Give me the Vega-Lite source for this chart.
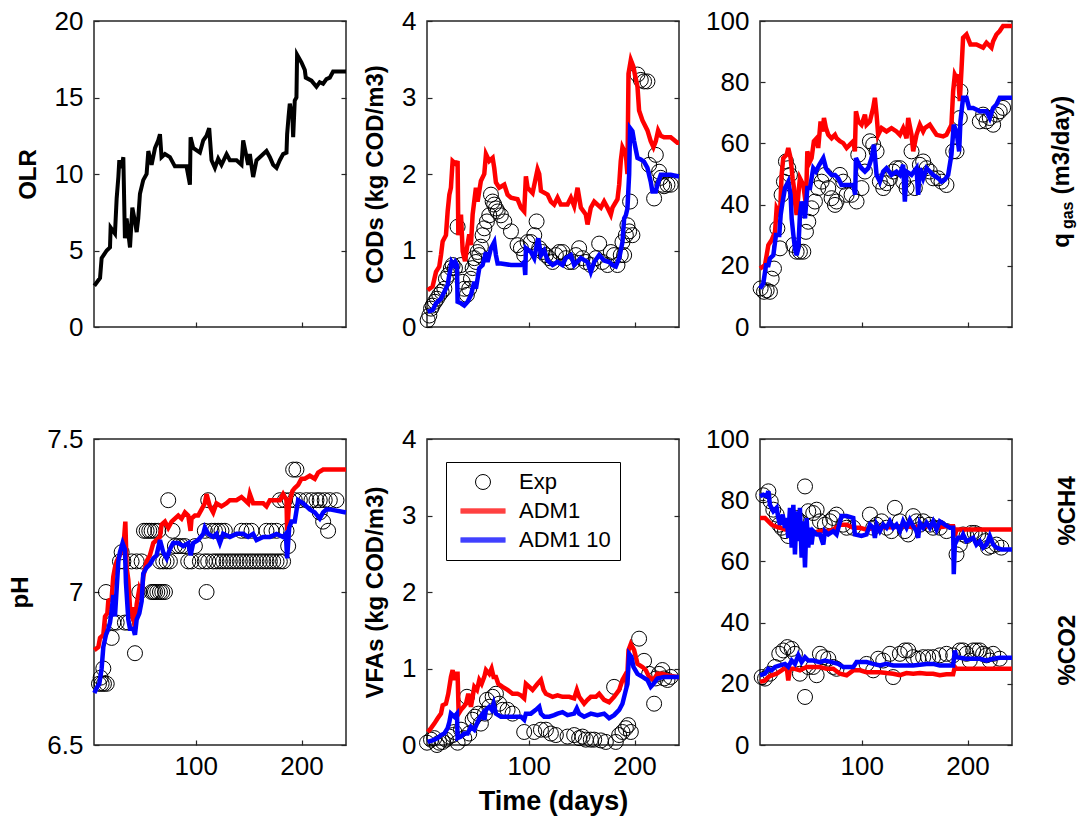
{
"$schema":"https://vega.github.io/schema/vega-lite/v6.json",
"background":"white",
"padding":{"left":8,"top":7,"right":5,"bottom":5},
"bounds":"flush",
"columns":3,
"spacing":{"row":112,"column":81},
"config":{
"font":"Liberation Sans",
"view":{"stroke":"#262626","strokeWidth":1.5},
"axis":{"grid":false,"domain":false,"ticks":true,"tickColor":"#262626","tickSize":-5,"tickWidth":1.2,"labelFont":"Liberation Sans","labelFontSize":26,"labelColor":"black","labelFlush":false,"labelOverlap":false,"titleFont":"Liberation Sans","titleFontSize":24,"titleFontWeight":"bold","titleColor":"black"},
"axisY":{"labelPadding":16,"titlePadding":14},
"axisX":{"labelPadding":13,"titlePadding":9},
"line":{"strokeWidth":4.5,"strokeJoin":"miter","strokeMiterLimit":4},
"point":{"opacity":1}
},
"datasets":{
"olr":[{"t":4.3,"v":2.7},{"t":9.7,"v":3.2},{"t":11.2,"v":4.5},{"t":16.0,"v":5.0},{"t":19.1,"v":5.2},{"t":19.7,"v":6.5},{"t":23.8,"v":6.1},{"t":25.4,"v":8.4},{"t":27.0,"v":9.8},{"t":27.9,"v":10.9},{"t":30.1,"v":10.4},{"t":31.7,"v":11.1},{"t":33.2,"v":5.8},{"t":34.8,"v":7.1},{"t":38.0,"v":5.2},{"t":40.2,"v":7.8},{"t":42.7,"v":6.9},{"t":44.3,"v":6.2},{"t":45.8,"v":7.1},{"t":47.4,"v":8.7},{"t":50.5,"v":9.6},{"t":53.7,"v":10.0},{"t":55.3,"v":11.5},{"t":58.4,"v":10.6},{"t":61.6,"v":11.7},{"t":64.7,"v":12.2},{"t":66.3,"v":12.6},{"t":67.8,"v":11.1},{"t":71.0,"v":11.3},{"t":75.7,"v":11.1},{"t":80.4,"v":10.5},{"t":91.4,"v":10.5},{"t":94.6,"v":9.3},{"t":95.2,"v":12.4},{"t":97.7,"v":11.7},{"t":104.0,"v":11.4},{"t":107.2,"v":12.2},{"t":110.3,"v":12.5},{"t":112.8,"v":13.0},{"t":115.0,"v":10.9},{"t":118.2,"v":10.4},{"t":121.3,"v":11.0},{"t":124.4,"v":10.6},{"t":129.2,"v":11.3},{"t":132.3,"v":10.9},{"t":138.6,"v":10.9},{"t":143.3,"v":10.6},{"t":144.9,"v":12.2},{"t":149.6,"v":10.6},{"t":151.2,"v":11.3},{"t":154.3,"v":9.8},{"t":157.5,"v":10.9},{"t":160.6,"v":11.1},{"t":166.9,"v":11.5},{"t":170.1,"v":11.1},{"t":173.2,"v":10.6},{"t":176.4,"v":10.4},{"t":179.5,"v":10.9},{"t":182.6,"v":11.3},{"t":185.8,"v":11.4},{"t":186.4,"v":12.6},{"t":187.7,"v":13.7},{"t":188.9,"v":14.6},{"t":191.4,"v":13.7},{"t":192.1,"v":12.4},{"t":193.6,"v":14.8},{"t":195.2,"v":15.0},{"t":195.8,"v":17.8},{"t":199.9,"v":17.3},{"t":203.1,"v":16.8},{"t":204.0,"v":16.3},{"t":209.4,"v":16.1},{"t":214.1,"v":15.7},{"t":217.2,"v":16.0},{"t":220.4,"v":15.9},{"t":223.5,"v":16.2},{"t":226.7,"v":16.3},{"t":229.8,"v":16.7},{"t":242,"v":16.7}],
"cod":[
{"t":4.6,"v":0.09,"s":"E"},{"t":6.2,"v":0.15,"s":"E"},{"t":7.8,"v":0.24,"s":"E"},{"t":9.3,"v":0.28,"s":"E"},{"t":11.5,"v":0.33,"s":"E"},{"t":13.4,"v":0.37,"s":"E"},{"t":15.6,"v":0.42,"s":"E"},{"t":17.8,"v":0.46,"s":"E"},{"t":20.4,"v":0.5,"s":"E"},{"t":21.9,"v":0.63,"s":"E"},{"t":24.1,"v":0.68,"s":"E"},{"t":26.6,"v":0.77,"s":"E"},{"t":28.2,"v":0.81,"s":"E"},{"t":30.4,"v":0.77,"s":"E"},{"t":32.9,"v":1.31,"s":"E"},{"t":36.1,"v":0.81,"s":"E"},{"t":37.7,"v":0.59,"s":"E"},{"t":39.2,"v":0.5,"s":"E"},{"t":41.7,"v":0.42,"s":"E"},{"t":43.9,"v":0.5,"s":"E"},{"t":45.5,"v":0.63,"s":"E"},{"t":47.1,"v":0.77,"s":"E"},{"t":48.7,"v":0.9,"s":"E"},{"t":50.2,"v":0.85,"s":"E"},{"t":51.8,"v":0.98,"s":"E"},{"t":53.4,"v":0.94,"s":"E"},{"t":54.9,"v":1.05,"s":"E"},{"t":56.5,"v":1.2,"s":"E"},{"t":58.1,"v":1.29,"s":"E"},{"t":60.6,"v":1.38,"s":"E"},{"t":62.8,"v":1.46,"s":"E"},{"t":64.4,"v":1.73,"s":"E"},{"t":66.0,"v":1.64,"s":"E"},{"t":67.5,"v":1.6,"s":"E"},{"t":69.1,"v":1.55,"s":"E"},{"t":70.7,"v":1.51,"s":"E"},{"t":73.8,"v":1.46,"s":"E"},{"t":77.0,"v":1.38,"s":"E"},{"t":83.3,"v":1.25,"s":"E"},{"t":89.5,"v":1.07,"s":"E"},{"t":92.7,"v":1.03,"s":"E"},{"t":95.8,"v":0.94,"s":"E"},{"t":99.0,"v":1.11,"s":"E"},{"t":102.1,"v":1.11,"s":"E"},{"t":105.3,"v":1.2,"s":"E"},{"t":107.5,"v":1.38,"s":"E"},{"t":110.0,"v":1.03,"s":"E"},{"t":113.1,"v":0.98,"s":"E"},{"t":116.3,"v":0.94,"s":"E"},{"t":119.4,"v":0.9,"s":"E"},{"t":122.6,"v":0.85,"s":"E"},{"t":125.7,"v":0.94,"s":"E"},{"t":128.9,"v":0.98,"s":"E"},{"t":132.0,"v":0.98,"s":"E"},{"t":135.1,"v":0.9,"s":"E"},{"t":138.3,"v":0.85,"s":"E"},{"t":141.4,"v":0.85,"s":"E"},{"t":144.6,"v":0.94,"s":"E"},{"t":147.7,"v":1.03,"s":"E"},{"t":150.9,"v":0.9,"s":"E"},{"t":154.0,"v":0.85,"s":"E"},{"t":158.7,"v":0.81,"s":"E"},{"t":163.5,"v":0.9,"s":"E"},{"t":166.6,"v":1.09,"s":"E"},{"t":169.7,"v":0.85,"s":"E"},{"t":174.5,"v":0.81,"s":"E"},{"t":177.6,"v":0.98,"s":"E"},{"t":180.7,"v":0.94,"s":"E"},{"t":183.9,"v":0.81,"s":"E"},{"t":187.0,"v":0.94,"s":"E"},{"t":188.6,"v":1.11,"s":"E"},{"t":190.2,"v":0.94,"s":"E"},{"t":191.8,"v":1.2,"s":"E"},{"t":193.3,"v":1.33,"s":"E"},{"t":194.9,"v":1.25,"s":"E"},{"t":195.8,"v":1.64,"s":"E"},{"t":198.0,"v":1.2,"s":"E"},{"t":202.8,"v":3.3,"s":"E"},{"t":205.9,"v":3.23,"s":"E"},{"t":209.0,"v":3.21,"s":"E"},{"t":212.2,"v":3.21,"s":"E"},{"t":213.8,"v":2.12,"s":"E"},{"t":218.5,"v":1.68,"s":"E"},{"t":220.1,"v":2.25,"s":"E"},{"t":223.2,"v":2.03,"s":"E"},{"t":224.8,"v":1.95,"s":"E"},{"t":226.3,"v":1.86,"s":"E"},{"t":227.9,"v":1.84,"s":"E"},{"t":231.1,"v":1.86,"s":"E"},{"t":234.2,"v":1.86,"s":"E"},
{"t":4.6,"v":0.48,"s":"A"},{"t":9.3,"v":0.53,"s":"A"},{"t":12.5,"v":0.72,"s":"A"},{"t":15.6,"v":0.79,"s":"A"},{"t":17.2,"v":0.94,"s":"A"},{"t":18.8,"v":1.12,"s":"A"},{"t":21.9,"v":1.2,"s":"A"},{"t":23.5,"v":1.51,"s":"A"},{"t":25.1,"v":1.73,"s":"A"},{"t":26.6,"v":1.82,"s":"A"},{"t":28.2,"v":2.17,"s":"A"},{"t":31.4,"v":2.13,"s":"A"},{"t":32.9,"v":2.17,"s":"A"},{"t":33.6,"v":1.2,"s":"A"},{"t":36.1,"v":1.47,"s":"A"},{"t":37.7,"v":0.99,"s":"A"},{"t":39.9,"v":0.86,"s":"A"},{"t":41.7,"v":1.03,"s":"A"},{"t":43.9,"v":1.21,"s":"A"},{"t":45.5,"v":1.07,"s":"A"},{"t":47.1,"v":1.47,"s":"A"},{"t":50.2,"v":1.82,"s":"A"},{"t":51.8,"v":1.64,"s":"A"},{"t":53.4,"v":1.78,"s":"A"},{"t":54.9,"v":1.91,"s":"A"},{"t":58.1,"v":2.0,"s":"A"},{"t":59.7,"v":2.26,"s":"A"},{"t":62.8,"v":2.17,"s":"A"},{"t":66.0,"v":2.21,"s":"A"},{"t":67.5,"v":2.08,"s":"A"},{"t":69.1,"v":1.89,"s":"A"},{"t":72.2,"v":1.82,"s":"A"},{"t":77.0,"v":1.86,"s":"A"},{"t":80.1,"v":1.73,"s":"A"},{"t":83.3,"v":1.69,"s":"A"},{"t":89.5,"v":1.67,"s":"A"},{"t":92.7,"v":1.56,"s":"A"},{"t":95.8,"v":1.51,"s":"A"},{"t":97.4,"v":1.97,"s":"A"},{"t":99.0,"v":1.82,"s":"A"},{"t":103.7,"v":1.75,"s":"A"},{"t":108.4,"v":2.06,"s":"A"},{"t":110.0,"v":2.0,"s":"A"},{"t":111.6,"v":1.78,"s":"A"},{"t":117.9,"v":1.73,"s":"A"},{"t":121.0,"v":1.64,"s":"A"},{"t":124.1,"v":1.6,"s":"A"},{"t":127.3,"v":1.69,"s":"A"},{"t":130.4,"v":1.6,"s":"A"},{"t":136.7,"v":1.6,"s":"A"},{"t":139.9,"v":1.69,"s":"A"},{"t":143.0,"v":1.58,"s":"A"},{"t":146.2,"v":1.82,"s":"A"},{"t":149.3,"v":1.56,"s":"A"},{"t":154.0,"v":1.47,"s":"A"},{"t":155.6,"v":1.34,"s":"A"},{"t":158.7,"v":1.56,"s":"A"},{"t":161.9,"v":1.64,"s":"A"},{"t":165.0,"v":1.6,"s":"A"},{"t":168.2,"v":1.56,"s":"A"},{"t":171.3,"v":1.64,"s":"A"},{"t":174.5,"v":1.56,"s":"A"},{"t":177.6,"v":1.47,"s":"A"},{"t":179.2,"v":1.56,"s":"A"},{"t":183.9,"v":1.67,"s":"A"},{"t":185.5,"v":1.86,"s":"A"},{"t":187.0,"v":2.17,"s":"A"},{"t":188.6,"v":2.35,"s":"A"},{"t":191.8,"v":2.26,"s":"A"},{"t":193.3,"v":2.0,"s":"A"},{"t":194.3,"v":3.31,"s":"A"},{"t":196.5,"v":3.49,"s":"A"},{"t":199.0,"v":3.4,"s":"A"},{"t":200.2,"v":3.31,"s":"A"},{"t":202.8,"v":3.14,"s":"A"},{"t":204.3,"v":2.83,"s":"A"},{"t":207.5,"v":2.7,"s":"A"},{"t":212.2,"v":2.57,"s":"A"},{"t":215.3,"v":2.43,"s":"A"},{"t":217.9,"v":2.35,"s":"A"},{"t":220.1,"v":2.43,"s":"A"},{"t":222.3,"v":2.57,"s":"A"},{"t":224.8,"v":2.5,"s":"A"},{"t":227.9,"v":2.48,"s":"A"},{"t":234.2,"v":2.48,"s":"A"},{"t":240.5,"v":2.41,"s":"A"},{"t":242,"v":2.41,"s":"A"},
{"t":4.6,"v":0.2,"s":"B"},{"t":9.3,"v":0.22,"s":"B"},{"t":12.5,"v":0.31,"s":"B"},{"t":17.2,"v":0.37,"s":"B"},{"t":20.4,"v":0.46,"s":"B"},{"t":23.5,"v":0.55,"s":"B"},{"t":25.1,"v":0.68,"s":"B"},{"t":27.3,"v":0.85,"s":"B"},{"t":29.2,"v":0.81,"s":"B"},{"t":30.7,"v":0.85,"s":"B"},{"t":32.3,"v":0.81,"s":"B"},{"t":32.9,"v":0.33,"s":"B"},{"t":36.1,"v":0.31,"s":"B"},{"t":39.2,"v":0.28,"s":"B"},{"t":42.4,"v":0.33,"s":"B"},{"t":45.5,"v":0.42,"s":"B"},{"t":48.7,"v":0.59,"s":"B"},{"t":50.2,"v":0.5,"s":"B"},{"t":53.4,"v":0.77,"s":"B"},{"t":56.5,"v":0.81,"s":"B"},{"t":59.7,"v":0.98,"s":"B"},{"t":61.2,"v":0.85,"s":"B"},{"t":64.4,"v":1.03,"s":"B"},{"t":67.5,"v":1.11,"s":"B"},{"t":69.1,"v":0.94,"s":"B"},{"t":70.7,"v":0.83,"s":"B"},{"t":73.8,"v":0.83,"s":"B"},{"t":83.3,"v":0.81,"s":"B"},{"t":92.7,"v":0.81,"s":"B"},{"t":95.8,"v":0.85,"s":"B"},{"t":96.8,"v":0.68,"s":"B"},{"t":97.4,"v":1.03,"s":"B"},{"t":102.1,"v":0.98,"s":"B"},{"t":105.3,"v":0.9,"s":"B"},{"t":109.0,"v":1.16,"s":"B"},{"t":111.6,"v":0.94,"s":"B"},{"t":114.7,"v":1.0,"s":"B"},{"t":117.9,"v":0.87,"s":"B"},{"t":122.6,"v":0.81,"s":"B"},{"t":127.3,"v":0.85,"s":"B"},{"t":132.0,"v":0.81,"s":"B"},{"t":135.1,"v":0.9,"s":"B"},{"t":139.9,"v":0.94,"s":"B"},{"t":143.0,"v":0.81,"s":"B"},{"t":149.3,"v":0.9,"s":"B"},{"t":155.6,"v":0.85,"s":"B"},{"t":158.7,"v":0.72,"s":"B"},{"t":161.9,"v":0.85,"s":"B"},{"t":166.6,"v":0.94,"s":"B"},{"t":171.3,"v":0.87,"s":"B"},{"t":176.0,"v":0.85,"s":"B"},{"t":179.2,"v":0.81,"s":"B"},{"t":182.3,"v":0.79,"s":"B"},{"t":185.5,"v":0.9,"s":"B"},{"t":188.6,"v":1.11,"s":"B"},{"t":190.2,"v":1.42,"s":"B"},{"t":191.8,"v":1.46,"s":"B"},{"t":193.3,"v":1.55,"s":"B"},{"t":194.9,"v":1.99,"s":"B"},{"t":195.8,"v":2.6,"s":"B"},{"t":198.0,"v":2.56,"s":"B"},{"t":199.6,"v":2.43,"s":"B"},{"t":202.8,"v":2.21,"s":"B"},{"t":205.9,"v":2.19,"s":"B"},{"t":209.0,"v":2.16,"s":"B"},{"t":212.2,"v":2.08,"s":"B"},{"t":215.3,"v":1.9,"s":"B"},{"t":216.9,"v":1.77,"s":"B"},{"t":220.1,"v":1.77,"s":"B"},{"t":221.6,"v":1.86,"s":"B"},{"t":224.8,"v":1.99,"s":"B"},{"t":227.9,"v":1.99,"s":"B"},{"t":234.2,"v":1.99,"s":"B"},{"t":240.5,"v":1.97,"s":"B"},{"t":242,"v":1.97,"s":"B"}],
"gas":[
{"t":4.6,"v":12.6,"s":"E"},{"t":7.8,"v":11.5,"s":"E"},{"t":10.3,"v":12.0,"s":"E"},{"t":13.4,"v":11.5,"s":"E"},{"t":15.0,"v":15.8,"s":"E"},{"t":17.2,"v":19.1,"s":"E"},{"t":20.4,"v":32.2,"s":"E"},{"t":22.9,"v":25.7,"s":"E"},{"t":24.4,"v":43.2,"s":"E"},{"t":26.6,"v":47.5,"s":"E"},{"t":28.5,"v":54.1,"s":"E"},{"t":30.7,"v":51.9,"s":"E"},{"t":32.3,"v":49.7,"s":"E"},{"t":35.5,"v":26.8,"s":"E"},{"t":38.6,"v":24.6,"s":"E"},{"t":41.7,"v":24.6,"s":"E"},{"t":44.9,"v":24.6,"s":"E"},{"t":47.4,"v":31.1,"s":"E"},{"t":49.6,"v":34.4,"s":"E"},{"t":52.7,"v":38.8,"s":"E"},{"t":55.9,"v":41.0,"s":"E"},{"t":59.0,"v":45.4,"s":"E"},{"t":62.2,"v":47.5,"s":"E"},{"t":65.3,"v":49.7,"s":"E"},{"t":68.5,"v":45.4,"s":"E"},{"t":71.6,"v":42.1,"s":"E"},{"t":74.8,"v":39.9,"s":"E"},{"t":76.3,"v":41.0,"s":"E"},{"t":79.5,"v":49.7,"s":"E"},{"t":82.6,"v":47.5,"s":"E"},{"t":85.8,"v":43.2,"s":"E"},{"t":90.5,"v":43.2,"s":"E"},{"t":95.2,"v":41.0,"s":"E"},{"t":96.8,"v":56.3,"s":"E"},{"t":99.9,"v":45.4,"s":"E"},{"t":103.1,"v":50.8,"s":"E"},{"t":107.8,"v":60.7,"s":"E"},{"t":110.9,"v":59.6,"s":"E"},{"t":114.1,"v":57.4,"s":"E"},{"t":117.2,"v":47.5,"s":"E"},{"t":120.4,"v":45.4,"s":"E"},{"t":123.5,"v":47.0,"s":"E"},{"t":126.7,"v":48.6,"s":"E"},{"t":129.8,"v":50.8,"s":"E"},{"t":132.9,"v":51.9,"s":"E"},{"t":136.1,"v":51.9,"s":"E"},{"t":139.2,"v":47.5,"s":"E"},{"t":142.4,"v":45.4,"s":"E"},{"t":147.1,"v":57.4,"s":"E"},{"t":150.2,"v":45.4,"s":"E"},{"t":155.0,"v":53.0,"s":"E"},{"t":158.1,"v":54.1,"s":"E"},{"t":161.3,"v":51.9,"s":"E"},{"t":164.4,"v":50.8,"s":"E"},{"t":167.5,"v":48.6,"s":"E"},{"t":172.3,"v":48.6,"s":"E"},{"t":175.4,"v":47.5,"s":"E"},{"t":180.1,"v":46.4,"s":"E"},{"t":186.4,"v":57.4,"s":"E"},{"t":189.6,"v":57.4,"s":"E"},{"t":192.7,"v":68.3,"s":"E"},{"t":193.3,"v":77.0,"s":"E"},{"t":211.6,"v":67.2,"s":"E"},{"t":214.7,"v":69.4,"s":"E"},{"t":217.9,"v":67.2,"s":"E"},{"t":221.0,"v":68.3,"s":"E"},{"t":224.2,"v":66.1,"s":"E"},{"t":227.3,"v":69.4,"s":"E"},{"t":230.4,"v":70.5,"s":"E"},{"t":233.6,"v":71.6,"s":"E"},
{"t":4.0,"v":19.1,"s":"A"},{"t":8.7,"v":20.2,"s":"A"},{"t":10.3,"v":23.5,"s":"A"},{"t":11.9,"v":26.8,"s":"A"},{"t":15.0,"v":28.4,"s":"A"},{"t":18.2,"v":31.1,"s":"A"},{"t":19.7,"v":38.8,"s":"A"},{"t":22.9,"v":36.6,"s":"A"},{"t":24.4,"v":49.7,"s":"A"},{"t":26.0,"v":55.2,"s":"A"},{"t":29.2,"v":56.3,"s":"A"},{"t":30.7,"v":58.5,"s":"A"},{"t":32.9,"v":55.2,"s":"A"},{"t":34.8,"v":48.6,"s":"A"},{"t":36.1,"v":45.4,"s":"A"},{"t":37.0,"v":41.0,"s":"A"},{"t":38.6,"v":36.6,"s":"A"},{"t":40.2,"v":43.2,"s":"A"},{"t":41.7,"v":48.6,"s":"A"},{"t":44.9,"v":46.4,"s":"A"},{"t":47.4,"v":39.9,"s":"A"},{"t":48.7,"v":57.4,"s":"A"},{"t":51.2,"v":54.1,"s":"A"},{"t":52.7,"v":55.2,"s":"A"},{"t":54.9,"v":60.7,"s":"A"},{"t":57.5,"v":61.7,"s":"A"},{"t":59.0,"v":58.5,"s":"A"},{"t":61.2,"v":67.2,"s":"A"},{"t":63.1,"v":63.9,"s":"A"},{"t":64.4,"v":68.3,"s":"A"},{"t":66.3,"v":65.0,"s":"A"},{"t":68.5,"v":62.8,"s":"A"},{"t":71.6,"v":61.7,"s":"A"},{"t":74.8,"v":62.8,"s":"A"},{"t":76.3,"v":61.7,"s":"A"},{"t":79.5,"v":60.7,"s":"A"},{"t":82.6,"v":60.1,"s":"A"},{"t":85.8,"v":58.5,"s":"A"},{"t":88.9,"v":59.6,"s":"A"},{"t":92.1,"v":60.7,"s":"A"},{"t":93.6,"v":57.4,"s":"A"},{"t":94.6,"v":70.5,"s":"A"},{"t":96.8,"v":67.2,"s":"A"},{"t":99.9,"v":66.1,"s":"A"},{"t":103.1,"v":69.4,"s":"A"},{"t":104.6,"v":66.1,"s":"A"},{"t":107.8,"v":67.2,"s":"A"},{"t":110.9,"v":71.6,"s":"A"},{"t":112.5,"v":74.9,"s":"A"},{"t":114.1,"v":69.4,"s":"A"},{"t":115.6,"v":62.8,"s":"A"},{"t":118.8,"v":65.0,"s":"A"},{"t":123.5,"v":63.9,"s":"A"},{"t":128.2,"v":65.0,"s":"A"},{"t":132.9,"v":63.9,"s":"A"},{"t":136.1,"v":62.8,"s":"A"},{"t":139.2,"v":65.0,"s":"A"},{"t":142.4,"v":61.7,"s":"A"},{"t":144.0,"v":68.3,"s":"A"},{"t":147.1,"v":62.8,"s":"A"},{"t":148.7,"v":57.4,"s":"A"},{"t":151.8,"v":62.8,"s":"A"},{"t":155.0,"v":66.1,"s":"A"},{"t":158.1,"v":63.9,"s":"A"},{"t":159.7,"v":65.0,"s":"A"},{"t":164.4,"v":66.1,"s":"A"},{"t":167.5,"v":64.5,"s":"A"},{"t":170.7,"v":62.8,"s":"A"},{"t":177.0,"v":62.3,"s":"A"},{"t":180.1,"v":62.8,"s":"A"},{"t":183.3,"v":65.0,"s":"A"},{"t":184.8,"v":66.1,"s":"A"},{"t":186.4,"v":77.0,"s":"A"},{"t":188.0,"v":82.5,"s":"A"},{"t":189.6,"v":81.4,"s":"A"},{"t":191.1,"v":82.5,"s":"A"},{"t":192.7,"v":73.8,"s":"A"},{"t":194.3,"v":84.2,"s":"A"},{"t":195.8,"v":94.5,"s":"A"},{"t":199.0,"v":95.6,"s":"A"},{"t":201.5,"v":93.4,"s":"A"},{"t":202.8,"v":92.3,"s":"A"},{"t":208.4,"v":92.3,"s":"A"},{"t":214.7,"v":91.3,"s":"A"},{"t":217.9,"v":92.9,"s":"A"},{"t":222.6,"v":91.3,"s":"A"},{"t":224.2,"v":93.4,"s":"A"},{"t":227.3,"v":95.6,"s":"A"},{"t":230.4,"v":96.7,"s":"A"},{"t":233.6,"v":98.4,"s":"A"},{"t":242,"v":98.4,"s":"A"},
{"t":4.0,"v":12.6,"s":"B"},{"t":7.1,"v":14.2,"s":"B"},{"t":9.7,"v":20.2,"s":"B"},{"t":11.9,"v":20.2,"s":"B"},{"t":13.4,"v":22.4,"s":"B"},{"t":16.6,"v":23.5,"s":"B"},{"t":19.1,"v":30.1,"s":"B"},{"t":22.2,"v":30.1,"s":"B"},{"t":23.5,"v":36.6,"s":"B"},{"t":25.4,"v":41.0,"s":"B"},{"t":27.6,"v":45.4,"s":"B"},{"t":30.7,"v":47.5,"s":"B"},{"t":32.9,"v":43.2,"s":"B"},{"t":33.9,"v":35.5,"s":"B"},{"t":35.5,"v":30.1,"s":"B"},{"t":37.0,"v":25.7,"s":"B"},{"t":38.6,"v":23.5,"s":"B"},{"t":40.2,"v":25.7,"s":"B"},{"t":41.7,"v":36.6,"s":"B"},{"t":43.3,"v":41.0,"s":"B"},{"t":44.9,"v":38.8,"s":"B"},{"t":46.5,"v":35.5,"s":"B"},{"t":48.7,"v":45.4,"s":"B"},{"t":51.2,"v":45.4,"s":"B"},{"t":54.3,"v":51.9,"s":"B"},{"t":56.8,"v":50.8,"s":"B"},{"t":60.0,"v":53.0,"s":"B"},{"t":63.8,"v":55.2,"s":"B"},{"t":66.3,"v":51.9,"s":"B"},{"t":68.5,"v":50.8,"s":"B"},{"t":71.6,"v":49.7,"s":"B"},{"t":74.8,"v":49.7,"s":"B"},{"t":77.9,"v":48.6,"s":"B"},{"t":81.0,"v":46.4,"s":"B"},{"t":85.8,"v":46.4,"s":"B"},{"t":92.1,"v":46.4,"s":"B"},{"t":93.9,"v":43.2,"s":"B"},{"t":94.6,"v":55.2,"s":"B"},{"t":97.7,"v":53.0,"s":"B"},{"t":99.9,"v":51.9,"s":"B"},{"t":103.1,"v":50.8,"s":"B"},{"t":106.2,"v":51.9,"s":"B"},{"t":109.4,"v":55.2,"s":"B"},{"t":111.6,"v":59.6,"s":"B"},{"t":114.1,"v":49.7,"s":"B"},{"t":117.2,"v":47.5,"s":"B"},{"t":120.4,"v":50.8,"s":"B"},{"t":123.5,"v":51.9,"s":"B"},{"t":128.2,"v":49.7,"s":"B"},{"t":132.9,"v":50.8,"s":"B"},{"t":136.1,"v":49.7,"s":"B"},{"t":139.2,"v":53.0,"s":"B"},{"t":140.8,"v":41.0,"s":"B"},{"t":142.4,"v":50.8,"s":"B"},{"t":147.1,"v":49.7,"s":"B"},{"t":151.8,"v":51.9,"s":"B"},{"t":153.4,"v":43.2,"s":"B"},{"t":155.0,"v":51.9,"s":"B"},{"t":158.1,"v":48.6,"s":"B"},{"t":161.3,"v":51.9,"s":"B"},{"t":164.4,"v":50.8,"s":"B"},{"t":167.5,"v":49.7,"s":"B"},{"t":172.3,"v":48.6,"s":"B"},{"t":175.4,"v":47.5,"s":"B"},{"t":178.5,"v":48.1,"s":"B"},{"t":181.7,"v":49.7,"s":"B"},{"t":184.8,"v":56.3,"s":"B"},{"t":187.0,"v":66.1,"s":"B"},{"t":189.6,"v":63.9,"s":"B"},{"t":192.1,"v":57.4,"s":"B"},{"t":193.3,"v":67.2,"s":"B"},{"t":195.8,"v":74.9,"s":"B"},{"t":199.0,"v":74.9,"s":"B"},{"t":201.5,"v":71.6,"s":"B"},{"t":205.3,"v":71.6,"s":"B"},{"t":211.6,"v":70.5,"s":"B"},{"t":217.9,"v":70.5,"s":"B"},{"t":221.0,"v":68.3,"s":"B"},{"t":224.2,"v":71.6,"s":"B"},{"t":227.3,"v":72.7,"s":"B"},{"t":230.4,"v":74.9,"s":"B"},{"t":242,"v":74.9,"s":"B"}],
"ph":[
{"t":8.7,"v":6.70,"s":"E"},{"t":11.2,"v":6.70,"s":"E"},{"t":13.4,"v":6.70,"s":"E"},{"t":16.0,"v":6.70,"s":"E"},{"t":10.3,"v":6.72,"s":"E"},{"t":12.8,"v":6.75,"s":"E"},{"t":15.3,"v":7.00,"s":"E"},{"t":20.7,"v":6.85,"s":"E"},{"t":22.2,"v":6.90,"s":"E"},{"t":25.4,"v":6.90,"s":"E"},{"t":28.5,"v":7.10,"s":"E"},{"t":30.1,"v":7.13,"s":"E"},{"t":31.7,"v":7.10,"s":"E"},{"t":33.2,"v":6.90,"s":"E"},{"t":36.4,"v":6.90,"s":"E"},{"t":39.5,"v":7.10,"s":"E"},{"t":42.7,"v":6.80,"s":"E"},{"t":44.3,"v":7.10,"s":"E"},{"t":46.8,"v":7.00,"s":"E"},{"t":49.0,"v":7.10,"s":"E"},{"t":51.2,"v":7.20,"s":"E"},{"t":53.7,"v":7.20,"s":"E"},{"t":56.2,"v":7.20,"s":"E"},{"t":58.4,"v":7.00,"s":"E"},{"t":60.0,"v":7.00,"s":"E"},{"t":61.6,"v":7.00,"s":"E"},{"t":63.8,"v":7.00,"s":"E"},{"t":66.3,"v":7.00,"s":"E"},{"t":68.5,"v":7.00,"s":"E"},{"t":71.0,"v":7.00,"s":"E"},{"t":58.4,"v":7.20,"s":"E"},{"t":61.6,"v":7.20,"s":"E"},{"t":64.7,"v":7.20,"s":"E"},{"t":66.3,"v":7.10,"s":"E"},{"t":69.4,"v":7.10,"s":"E"},{"t":72.6,"v":7.10,"s":"E"},{"t":74.1,"v":7.30,"s":"E"},{"t":75.7,"v":7.10,"s":"E"},{"t":78.2,"v":7.20,"s":"E"},{"t":80.4,"v":7.15,"s":"E"},{"t":83.6,"v":7.15,"s":"E"},{"t":86.7,"v":7.15,"s":"E"},{"t":89.9,"v":7.15,"s":"E"},{"t":93.0,"v":7.10,"s":"E"},{"t":96.1,"v":7.10,"s":"E"},{"t":99.3,"v":7.15,"s":"E"},{"t":104.0,"v":7.10,"s":"E"},{"t":108.7,"v":7.10,"s":"E"},{"t":110.3,"v":7.00,"s":"E"},{"t":111.9,"v":7.30,"s":"E"},{"t":115.0,"v":7.20,"s":"E"},{"t":118.2,"v":7.20,"s":"E"},{"t":121.3,"v":7.20,"s":"E"},{"t":124.4,"v":7.20,"s":"E"},{"t":127.6,"v":7.20,"s":"E"},{"t":108.7,"v":7.20,"s":"E"},{"t":111.9,"v":7.10,"s":"E"},{"t":116.6,"v":7.10,"s":"E"},{"t":119.7,"v":7.10,"s":"E"},{"t":122.9,"v":7.10,"s":"E"},{"t":126.0,"v":7.10,"s":"E"},{"t":129.2,"v":7.10,"s":"E"},{"t":132.3,"v":7.10,"s":"E"},{"t":135.5,"v":7.10,"s":"E"},{"t":138.6,"v":7.10,"s":"E"},{"t":141.8,"v":7.10,"s":"E"},{"t":144.9,"v":7.10,"s":"E"},{"t":148.0,"v":7.10,"s":"E"},{"t":151.2,"v":7.10,"s":"E"},{"t":154.3,"v":7.10,"s":"E"},{"t":157.5,"v":7.10,"s":"E"},{"t":160.6,"v":7.10,"s":"E"},{"t":163.8,"v":7.10,"s":"E"},{"t":166.9,"v":7.10,"s":"E"},{"t":170.1,"v":7.10,"s":"E"},{"t":173.2,"v":7.10,"s":"E"},{"t":176.4,"v":7.10,"s":"E"},{"t":179.5,"v":7.10,"s":"E"},{"t":182.6,"v":7.10,"s":"E"},{"t":143.3,"v":7.20,"s":"E"},{"t":148.0,"v":7.20,"s":"E"},{"t":152.8,"v":7.20,"s":"E"},{"t":166.9,"v":7.20,"s":"E"},{"t":171.6,"v":7.20,"s":"E"},{"t":176.4,"v":7.20,"s":"E"},{"t":179.5,"v":7.30,"s":"E"},{"t":184.2,"v":7.30,"s":"E"},{"t":185.8,"v":7.20,"s":"E"},{"t":187.4,"v":7.15,"s":"E"},{"t":188.9,"v":7.30,"s":"E"},{"t":192.1,"v":7.40,"s":"E"},{"t":195.2,"v":7.40,"s":"E"},{"t":193.6,"v":7.30,"s":"E"},{"t":198.4,"v":7.30,"s":"E"},{"t":204.6,"v":7.30,"s":"E"},{"t":209.4,"v":7.30,"s":"E"},{"t":214.1,"v":7.30,"s":"E"},{"t":217.2,"v":7.30,"s":"E"},{"t":221.9,"v":7.30,"s":"E"},{"t":226.7,"v":7.30,"s":"E"},{"t":233.0,"v":7.30,"s":"E"},{"t":217.2,"v":7.26,"s":"E"},{"t":220.4,"v":7.23,"s":"E"},{"t":225.1,"v":7.20,"s":"E"},
{"t":4.3,"v":6.81,"s":"A"},{"t":8.1,"v":6.82,"s":"A"},{"t":9.7,"v":6.85,"s":"A"},{"t":12.8,"v":6.86,"s":"A"},{"t":14.4,"v":6.92,"s":"A"},{"t":16.6,"v":6.93,"s":"A"},{"t":17.5,"v":6.97,"s":"A"},{"t":20.7,"v":6.98,"s":"A"},{"t":22.2,"v":7.05,"s":"A"},{"t":23.8,"v":7.08,"s":"A"},{"t":25.4,"v":7.10,"s":"A"},{"t":28.5,"v":7.12,"s":"A"},{"t":30.1,"v":7.14,"s":"A"},{"t":32.3,"v":7.17,"s":"A"},{"t":33.6,"v":7.23,"s":"A"},{"t":34.8,"v":7.08,"s":"A"},{"t":36.4,"v":7.04,"s":"A"},{"t":38.0,"v":6.95,"s":"A"},{"t":39.5,"v":6.93,"s":"A"},{"t":41.1,"v":6.95,"s":"A"},{"t":42.7,"v":6.88,"s":"A"},{"t":44.3,"v":6.96,"s":"A"},{"t":46.8,"v":7.01,"s":"A"},{"t":49.0,"v":6.99,"s":"A"},{"t":50.5,"v":7.05,"s":"A"},{"t":53.7,"v":7.10,"s":"A"},{"t":56.8,"v":7.12,"s":"A"},{"t":60.0,"v":7.16,"s":"A"},{"t":63.1,"v":7.17,"s":"A"},{"t":66.3,"v":7.18,"s":"A"},{"t":67.8,"v":7.22,"s":"A"},{"t":71.0,"v":7.23,"s":"A"},{"t":74.1,"v":7.21,"s":"A"},{"t":77.3,"v":7.23,"s":"A"},{"t":80.4,"v":7.24,"s":"A"},{"t":83.6,"v":7.25,"s":"A"},{"t":86.7,"v":7.24,"s":"A"},{"t":89.9,"v":7.26,"s":"A"},{"t":93.0,"v":7.25,"s":"A"},{"t":95.2,"v":7.20,"s":"A"},{"t":96.1,"v":7.24,"s":"A"},{"t":99.3,"v":7.25,"s":"A"},{"t":102.4,"v":7.25,"s":"A"},{"t":105.6,"v":7.27,"s":"A"},{"t":108.7,"v":7.29,"s":"A"},{"t":110.3,"v":7.32,"s":"A"},{"t":113.4,"v":7.28,"s":"A"},{"t":116.6,"v":7.26,"s":"A"},{"t":119.7,"v":7.29,"s":"A"},{"t":124.4,"v":7.28,"s":"A"},{"t":129.2,"v":7.29,"s":"A"},{"t":132.3,"v":7.30,"s":"A"},{"t":138.6,"v":7.30,"s":"A"},{"t":143.3,"v":7.31,"s":"A"},{"t":146.5,"v":7.30,"s":"A"},{"t":149.6,"v":7.29,"s":"A"},{"t":151.2,"v":7.32,"s":"A"},{"t":154.3,"v":7.29,"s":"A"},{"t":159.1,"v":7.29,"s":"A"},{"t":163.8,"v":7.29,"s":"A"},{"t":166.9,"v":7.28,"s":"A"},{"t":170.1,"v":7.30,"s":"A"},{"t":174.8,"v":7.30,"s":"A"},{"t":179.5,"v":7.30,"s":"A"},{"t":182.6,"v":7.32,"s":"A"},{"t":185.8,"v":7.30,"s":"A"},{"t":186.4,"v":7.20,"s":"A"},{"t":188.3,"v":7.29,"s":"A"},{"t":191.4,"v":7.33,"s":"A"},{"t":193.6,"v":7.34,"s":"A"},{"t":196.8,"v":7.35,"s":"A"},{"t":199.9,"v":7.37,"s":"A"},{"t":203.1,"v":7.37,"s":"A"},{"t":207.8,"v":7.38,"s":"A"},{"t":212.5,"v":7.37,"s":"A"},{"t":215.7,"v":7.39,"s":"A"},{"t":220.4,"v":7.40,"s":"A"},{"t":226.7,"v":7.40,"s":"A"},{"t":242,"v":7.40,"s":"A"},
{"t":4.3,"v":6.67,"s":"B"},{"t":7.1,"v":6.69,"s":"B"},{"t":9.0,"v":6.70,"s":"B"},{"t":11.2,"v":6.75,"s":"B"},{"t":12.8,"v":6.82,"s":"B"},{"t":15.3,"v":6.86,"s":"B"},{"t":17.5,"v":6.88,"s":"B"},{"t":19.1,"v":6.90,"s":"B"},{"t":20.7,"v":6.94,"s":"B"},{"t":22.2,"v":6.99,"s":"B"},{"t":23.8,"v":6.92,"s":"B"},{"t":25.4,"v":7.01,"s":"B"},{"t":27.0,"v":7.10,"s":"B"},{"t":28.5,"v":7.13,"s":"B"},{"t":31.0,"v":7.16,"s":"B"},{"t":33.2,"v":7.14,"s":"B"},{"t":34.2,"v":7.03,"s":"B"},{"t":36.4,"v":6.91,"s":"B"},{"t":38.0,"v":6.88,"s":"B"},{"t":41.1,"v":6.88,"s":"B"},{"t":42.7,"v":6.86,"s":"B"},{"t":44.3,"v":6.91,"s":"B"},{"t":46.8,"v":6.93,"s":"B"},{"t":49.0,"v":6.97,"s":"B"},{"t":50.5,"v":7.06,"s":"B"},{"t":53.7,"v":7.08,"s":"B"},{"t":56.8,"v":7.09,"s":"B"},{"t":60.0,"v":7.11,"s":"B"},{"t":63.1,"v":7.12,"s":"B"},{"t":66.3,"v":7.17,"s":"B"},{"t":69.4,"v":7.13,"s":"B"},{"t":72.6,"v":7.11,"s":"B"},{"t":75.7,"v":7.14,"s":"B"},{"t":78.8,"v":7.16,"s":"B"},{"t":83.6,"v":7.16,"s":"B"},{"t":88.3,"v":7.15,"s":"B"},{"t":93.0,"v":7.16,"s":"B"},{"t":95.2,"v":7.12,"s":"B"},{"t":97.7,"v":7.16,"s":"B"},{"t":102.4,"v":7.17,"s":"B"},{"t":107.2,"v":7.19,"s":"B"},{"t":108.7,"v":7.21,"s":"B"},{"t":111.9,"v":7.19,"s":"B"},{"t":116.6,"v":7.18,"s":"B"},{"t":119.7,"v":7.19,"s":"B"},{"t":122.9,"v":7.16,"s":"B"},{"t":126.0,"v":7.19,"s":"B"},{"t":132.3,"v":7.18,"s":"B"},{"t":138.6,"v":7.19,"s":"B"},{"t":144.9,"v":7.19,"s":"B"},{"t":149.6,"v":7.18,"s":"B"},{"t":154.3,"v":7.19,"s":"B"},{"t":157.5,"v":7.17,"s":"B"},{"t":163.8,"v":7.18,"s":"B"},{"t":170.1,"v":7.18,"s":"B"},{"t":176.4,"v":7.19,"s":"B"},{"t":182.6,"v":7.18,"s":"B"},{"t":185.2,"v":7.19,"s":"B"},{"t":186.4,"v":7.11,"s":"B"},{"t":188.3,"v":7.21,"s":"B"},{"t":190.5,"v":7.23,"s":"B"},{"t":193.6,"v":7.23,"s":"B"},{"t":196.8,"v":7.30,"s":"B"},{"t":201.5,"v":7.29,"s":"B"},{"t":207.8,"v":7.27,"s":"B"},{"t":212.5,"v":7.26,"s":"B"},{"t":217.2,"v":7.24,"s":"B"},{"t":220.4,"v":7.26,"s":"B"},{"t":223.5,"v":7.27,"s":"B"},{"t":226.7,"v":7.27,"s":"B"},{"t":242,"v":7.26,"s":"B"}],
"vfa":[
{"t":4.0,"v":0.03,"s":"E"},{"t":7.8,"v":0.07,"s":"E"},{"t":10.9,"v":0.09,"s":"E"},{"t":13.4,"v":0.0,"s":"E"},{"t":15.6,"v":0.03,"s":"E"},{"t":18.8,"v":0.04,"s":"E"},{"t":21.9,"v":0.07,"s":"E"},{"t":25.1,"v":0.11,"s":"E"},{"t":28.2,"v":0.13,"s":"E"},{"t":29.8,"v":0.17,"s":"E"},{"t":32.9,"v":0.03,"s":"E"},{"t":36.1,"v":0.2,"s":"E"},{"t":39.2,"v":0.09,"s":"E"},{"t":41.7,"v":0.63,"s":"E"},{"t":43.9,"v":0.15,"s":"E"},{"t":47.1,"v":0.33,"s":"E"},{"t":49.3,"v":0.37,"s":"E"},{"t":52.4,"v":0.41,"s":"E"},{"t":54.9,"v":0.28,"s":"E"},{"t":58.7,"v":0.41,"s":"E"},{"t":60.6,"v":0.59,"s":"E"},{"t":62.8,"v":0.5,"s":"E"},{"t":66.0,"v":0.63,"s":"E"},{"t":69.1,"v":0.67,"s":"E"},{"t":72.2,"v":0.54,"s":"E"},{"t":75.4,"v":0.46,"s":"E"},{"t":80.1,"v":0.46,"s":"E"},{"t":84.8,"v":0.41,"s":"E"},{"t":95.8,"v":0.17,"s":"E"},{"t":105.3,"v":0.17,"s":"E"},{"t":111.6,"v":0.2,"s":"E"},{"t":116.3,"v":0.2,"s":"E"},{"t":121.0,"v":0.15,"s":"E"},{"t":125.7,"v":0.13,"s":"E"},{"t":136.7,"v":0.11,"s":"E"},{"t":143.0,"v":0.13,"s":"E"},{"t":147.7,"v":0.09,"s":"E"},{"t":150.9,"v":0.11,"s":"E"},{"t":154.0,"v":0.07,"s":"E"},{"t":158.7,"v":0.07,"s":"E"},{"t":161.9,"v":0.07,"s":"E"},{"t":168.2,"v":0.06,"s":"E"},{"t":172.9,"v":0.04,"s":"E"},{"t":180.7,"v":0.76,"s":"E"},{"t":182.3,"v":0.04,"s":"E"},{"t":185.5,"v":0.13,"s":"E"},{"t":188.6,"v":0.17,"s":"E"},{"t":191.8,"v":0.22,"s":"E"},{"t":194.0,"v":0.26,"s":"E"},{"t":196.5,"v":0.17,"s":"E"},{"t":204.3,"v":1.39,"s":"E"},{"t":209.0,"v":1.1,"s":"E"},{"t":213.8,"v":0.93,"s":"E"},{"t":218.5,"v":0.54,"s":"E"},{"t":220.1,"v":0.87,"s":"E"},{"t":223.2,"v":0.93,"s":"E"},{"t":226.3,"v":0.98,"s":"E"},{"t":227.9,"v":0.87,"s":"E"},{"t":231.1,"v":0.85,"s":"E"},{"t":234.2,"v":0.89,"s":"E"},
{"t":4.6,"v":0.17,"s":"A"},{"t":7.8,"v":0.22,"s":"A"},{"t":10.9,"v":0.28,"s":"A"},{"t":14.1,"v":0.35,"s":"A"},{"t":17.2,"v":0.41,"s":"A"},{"t":18.8,"v":0.52,"s":"A"},{"t":21.9,"v":0.54,"s":"A"},{"t":24.1,"v":0.67,"s":"A"},{"t":26.6,"v":0.89,"s":"A"},{"t":28.2,"v":0.98,"s":"A"},{"t":29.8,"v":0.85,"s":"A"},{"t":31.4,"v":0.93,"s":"A"},{"t":32.9,"v":0.93,"s":"A"},{"t":33.9,"v":0.41,"s":"A"},{"t":36.1,"v":0.46,"s":"A"},{"t":38.6,"v":0.5,"s":"A"},{"t":40.8,"v":0.54,"s":"A"},{"t":43.0,"v":0.67,"s":"A"},{"t":45.5,"v":0.5,"s":"A"},{"t":48.7,"v":0.76,"s":"A"},{"t":51.2,"v":0.72,"s":"A"},{"t":53.4,"v":0.85,"s":"A"},{"t":55.6,"v":0.8,"s":"A"},{"t":58.1,"v":0.89,"s":"A"},{"t":59.7,"v":0.98,"s":"A"},{"t":62.8,"v":0.93,"s":"A"},{"t":65.0,"v":1.0,"s":"A"},{"t":66.9,"v":0.89,"s":"A"},{"t":69.1,"v":0.89,"s":"A"},{"t":71.3,"v":0.8,"s":"A"},{"t":75.4,"v":0.76,"s":"A"},{"t":80.1,"v":0.72,"s":"A"},{"t":84.8,"v":0.67,"s":"A"},{"t":89.5,"v":0.67,"s":"A"},{"t":92.7,"v":0.65,"s":"A"},{"t":95.8,"v":0.61,"s":"A"},{"t":97.4,"v":0.8,"s":"A"},{"t":100.6,"v":0.76,"s":"A"},{"t":103.7,"v":0.72,"s":"A"},{"t":108.4,"v":0.8,"s":"A"},{"t":111.6,"v":0.85,"s":"A"},{"t":114.1,"v":0.72,"s":"A"},{"t":116.3,"v":0.67,"s":"A"},{"t":119.4,"v":0.65,"s":"A"},{"t":122.6,"v":0.63,"s":"A"},{"t":127.3,"v":0.65,"s":"A"},{"t":132.0,"v":0.63,"s":"A"},{"t":138.3,"v":0.63,"s":"A"},{"t":143.0,"v":0.61,"s":"A"},{"t":145.5,"v":0.72,"s":"A"},{"t":147.7,"v":0.63,"s":"A"},{"t":152.4,"v":0.54,"s":"A"},{"t":155.6,"v":0.59,"s":"A"},{"t":158.7,"v":0.63,"s":"A"},{"t":163.5,"v":0.63,"s":"A"},{"t":166.6,"v":0.67,"s":"A"},{"t":171.3,"v":0.59,"s":"A"},{"t":176.0,"v":0.56,"s":"A"},{"t":180.7,"v":0.63,"s":"A"},{"t":185.5,"v":0.72,"s":"A"},{"t":188.6,"v":0.85,"s":"A"},{"t":191.8,"v":0.93,"s":"A"},{"t":192.7,"v":0.76,"s":"A"},{"t":194.3,"v":1.24,"s":"A"},{"t":196.5,"v":1.32,"s":"A"},{"t":199.6,"v":1.24,"s":"A"},{"t":202.8,"v":1.06,"s":"A"},{"t":207.5,"v":1.02,"s":"A"},{"t":210.6,"v":0.98,"s":"A"},{"t":213.8,"v":0.89,"s":"A"},{"t":217.9,"v":0.85,"s":"A"},{"t":221.6,"v":0.93,"s":"A"},{"t":226.3,"v":0.93,"s":"A"},{"t":231.1,"v":0.91,"s":"A"},{"t":240.5,"v":0.89,"s":"A"},{"t":242,"v":0.89,"s":"A"},
{"t":4.6,"v":0.04,"s":"B"},{"t":9.3,"v":0.06,"s":"B"},{"t":14.1,"v":0.09,"s":"B"},{"t":17.2,"v":0.13,"s":"B"},{"t":20.4,"v":0.15,"s":"B"},{"t":23.5,"v":0.22,"s":"B"},{"t":25.1,"v":0.3,"s":"B"},{"t":26.6,"v":0.41,"s":"B"},{"t":29.8,"v":0.37,"s":"B"},{"t":32.3,"v":0.41,"s":"B"},{"t":32.9,"v":0.09,"s":"B"},{"t":36.1,"v":0.11,"s":"B"},{"t":39.2,"v":0.15,"s":"B"},{"t":42.4,"v":0.15,"s":"B"},{"t":45.5,"v":0.24,"s":"B"},{"t":48.7,"v":0.2,"s":"B"},{"t":51.2,"v":0.28,"s":"B"},{"t":53.4,"v":0.35,"s":"B"},{"t":56.5,"v":0.41,"s":"B"},{"t":58.1,"v":0.33,"s":"B"},{"t":59.7,"v":0.46,"s":"B"},{"t":62.8,"v":0.5,"s":"B"},{"t":65.0,"v":0.46,"s":"B"},{"t":66.9,"v":0.54,"s":"B"},{"t":69.1,"v":0.41,"s":"B"},{"t":73.8,"v":0.37,"s":"B"},{"t":80.1,"v":0.37,"s":"B"},{"t":86.4,"v":0.37,"s":"B"},{"t":92.7,"v":0.37,"s":"B"},{"t":95.8,"v":0.33,"s":"B"},{"t":97.4,"v":0.41,"s":"B"},{"t":102.1,"v":0.41,"s":"B"},{"t":106.8,"v":0.46,"s":"B"},{"t":110.0,"v":0.5,"s":"B"},{"t":111.6,"v":0.41,"s":"B"},{"t":114.7,"v":0.37,"s":"B"},{"t":119.4,"v":0.37,"s":"B"},{"t":124.1,"v":0.39,"s":"B"},{"t":127.3,"v":0.41,"s":"B"},{"t":132.0,"v":0.43,"s":"B"},{"t":136.7,"v":0.39,"s":"B"},{"t":143.0,"v":0.41,"s":"B"},{"t":145.5,"v":0.48,"s":"B"},{"t":147.7,"v":0.41,"s":"B"},{"t":152.4,"v":0.37,"s":"B"},{"t":158.7,"v":0.41,"s":"B"},{"t":165.0,"v":0.39,"s":"B"},{"t":171.3,"v":0.41,"s":"B"},{"t":176.0,"v":0.35,"s":"B"},{"t":180.7,"v":0.39,"s":"B"},{"t":185.5,"v":0.46,"s":"B"},{"t":188.6,"v":0.54,"s":"B"},{"t":191.8,"v":0.72,"s":"B"},{"t":193.3,"v":0.8,"s":"B"},{"t":194.9,"v":1.19,"s":"B"},{"t":197.1,"v":1.15,"s":"B"},{"t":199.0,"v":1.02,"s":"B"},{"t":202.8,"v":0.93,"s":"B"},{"t":207.5,"v":0.89,"s":"B"},{"t":212.2,"v":0.85,"s":"B"},{"t":215.3,"v":0.76,"s":"B"},{"t":217.9,"v":0.8,"s":"B"},{"t":221.6,"v":0.87,"s":"B"},{"t":227.9,"v":0.89,"s":"B"},{"t":240.5,"v":0.89,"s":"B"},{"t":242,"v":0.89,"s":"B"}],
"comp":[
{"t":7.1,"v":81.6,"s":"E","g":"CH4"},{"t":11.9,"v":82.9,"s":"E","g":"CH4"},{"t":14.1,"v":79.6,"s":"E","g":"CH4"},{"t":16.6,"v":76.9,"s":"E","g":"CH4"},{"t":19.7,"v":75.3,"s":"E","g":"CH4"},{"t":22.2,"v":72.0,"s":"E","g":"CH4"},{"t":24.4,"v":71.0,"s":"E","g":"CH4"},{"t":27.6,"v":69.9,"s":"E","g":"CH4"},{"t":30.7,"v":68.3,"s":"E","g":"CH4"},{"t":34.8,"v":72.0,"s":"E","g":"CH4"},{"t":38.6,"v":74.2,"s":"E","g":"CH4"},{"t":41.7,"v":73.1,"s":"E","g":"CH4"},{"t":46.5,"v":84.5,"s":"E","g":"CH4"},{"t":49.6,"v":76.4,"s":"E","g":"CH4"},{"t":54.3,"v":75.8,"s":"E","g":"CH4"},{"t":57.5,"v":76.9,"s":"E","g":"CH4"},{"t":60.6,"v":73.1,"s":"E","g":"CH4"},{"t":65.3,"v":72.0,"s":"E","g":"CH4"},{"t":70.0,"v":73.1,"s":"E","g":"CH4"},{"t":73.2,"v":74.2,"s":"E","g":"CH4"},{"t":76.3,"v":75.3,"s":"E","g":"CH4"},{"t":82.6,"v":72.0,"s":"E","g":"CH4"},{"t":85.8,"v":71.0,"s":"E","g":"CH4"},{"t":92.1,"v":71.0,"s":"E","g":"CH4"},{"t":107.8,"v":75.3,"s":"E","g":"CH4"},{"t":110.9,"v":71.0,"s":"E","g":"CH4"},{"t":114.1,"v":72.0,"s":"E","g":"CH4"},{"t":118.8,"v":73.1,"s":"E","g":"CH4"},{"t":123.5,"v":71.0,"s":"E","g":"CH4"},{"t":128.2,"v":69.9,"s":"E","g":"CH4"},{"t":131.4,"v":77.5,"s":"E","g":"CH4"},{"t":136.1,"v":73.1,"s":"E","g":"CH4"},{"t":140.8,"v":69.9,"s":"E","g":"CH4"},{"t":144.0,"v":68.8,"s":"E","g":"CH4"},{"t":148.7,"v":74.8,"s":"E","g":"CH4"},{"t":151.8,"v":73.1,"s":"E","g":"CH4"},{"t":155.0,"v":72.0,"s":"E","g":"CH4"},{"t":158.1,"v":73.1,"s":"E","g":"CH4"},{"t":164.4,"v":72.0,"s":"E","g":"CH4"},{"t":167.5,"v":71.0,"s":"E","g":"CH4"},{"t":173.8,"v":71.0,"s":"E","g":"CH4"},{"t":180.1,"v":69.9,"s":"E","g":"CH4"},{"t":189.6,"v":62.3,"s":"E","g":"CH4"},{"t":192.7,"v":65.5,"s":"E","g":"CH4"},{"t":195.8,"v":68.8,"s":"E","g":"CH4"},{"t":199.0,"v":68.3,"s":"E","g":"CH4"},{"t":203.7,"v":69.3,"s":"E","g":"CH4"},{"t":206.8,"v":69.3,"s":"E","g":"CH4"},{"t":210.0,"v":68.8,"s":"E","g":"CH4"},{"t":213.1,"v":67.7,"s":"E","g":"CH4"},{"t":216.3,"v":66.6,"s":"E","g":"CH4"},{"t":219.4,"v":64.5,"s":"E","g":"CH4"},{"t":222.6,"v":65.0,"s":"E","g":"CH4"},{"t":227.3,"v":65.5,"s":"E","g":"CH4"},{"t":232.0,"v":64.5,"s":"E","g":"CH4"},
{"t":5.6,"v":22.2,"s":"E","g":"CO2"},{"t":8.7,"v":21.7,"s":"E","g":"CO2"},{"t":13.4,"v":23.3,"s":"E","g":"CO2"},{"t":18.2,"v":25.5,"s":"E","g":"CO2"},{"t":22.2,"v":29.8,"s":"E","g":"CO2"},{"t":26.0,"v":30.9,"s":"E","g":"CO2"},{"t":29.8,"v":32.0,"s":"E","g":"CO2"},{"t":33.9,"v":31.4,"s":"E","g":"CO2"},{"t":37.0,"v":29.8,"s":"E","g":"CO2"},{"t":41.7,"v":23.3,"s":"E","g":"CO2"},{"t":46.5,"v":15.7,"s":"E","g":"CO2"},{"t":49.6,"v":25.5,"s":"E","g":"CO2"},{"t":54.3,"v":25.5,"s":"E","g":"CO2"},{"t":57.5,"v":22.8,"s":"E","g":"CO2"},{"t":60.6,"v":29.8,"s":"E","g":"CO2"},{"t":63.8,"v":28.7,"s":"E","g":"CO2"},{"t":68.5,"v":28.2,"s":"E","g":"CO2"},{"t":73.2,"v":25.5,"s":"E","g":"CO2"},{"t":76.3,"v":24.9,"s":"E","g":"CO2"},{"t":104.6,"v":26.5,"s":"E","g":"CO2"},{"t":110.9,"v":24.4,"s":"E","g":"CO2"},{"t":115.6,"v":28.2,"s":"E","g":"CO2"},{"t":120.4,"v":27.6,"s":"E","g":"CO2"},{"t":126.7,"v":29.8,"s":"E","g":"CO2"},{"t":129.8,"v":22.2,"s":"E","g":"CO2"},{"t":136.1,"v":29.8,"s":"E","g":"CO2"},{"t":140.8,"v":30.9,"s":"E","g":"CO2"},{"t":144.0,"v":30.9,"s":"E","g":"CO2"},{"t":148.7,"v":28.7,"s":"E","g":"CO2"},{"t":153.4,"v":28.2,"s":"E","g":"CO2"},{"t":158.1,"v":28.7,"s":"E","g":"CO2"},{"t":162.8,"v":28.7,"s":"E","g":"CO2"},{"t":167.5,"v":28.7,"s":"E","g":"CO2"},{"t":173.8,"v":29.3,"s":"E","g":"CO2"},{"t":180.1,"v":29.8,"s":"E","g":"CO2"},{"t":186.4,"v":29.3,"s":"E","g":"CO2"},{"t":192.7,"v":30.9,"s":"E","g":"CO2"},{"t":195.8,"v":30.9,"s":"E","g":"CO2"},{"t":199.0,"v":29.8,"s":"E","g":"CO2"},{"t":202.1,"v":27.6,"s":"E","g":"CO2"},{"t":205.3,"v":30.9,"s":"E","g":"CO2"},{"t":208.4,"v":30.9,"s":"E","g":"CO2"},{"t":211.6,"v":30.9,"s":"E","g":"CO2"},{"t":214.7,"v":29.8,"s":"E","g":"CO2"},{"t":217.9,"v":29.3,"s":"E","g":"CO2"},{"t":221.0,"v":27.6,"s":"E","g":"CO2"},{"t":224.2,"v":29.8,"s":"E","g":"CO2"},{"t":230.4,"v":28.2,"s":"E","g":"CO2"},
{"t":4.0,"v":74.2,"s":"A","g":"CH4"},{"t":8.7,"v":74.2,"s":"A","g":"CH4"},{"t":11.9,"v":73.1,"s":"A","g":"CH4"},{"t":15.0,"v":72.0,"s":"A","g":"CH4"},{"t":18.2,"v":71.5,"s":"A","g":"CH4"},{"t":22.9,"v":71.0,"s":"A","g":"CH4"},{"t":27.6,"v":70.4,"s":"A","g":"CH4"},{"t":32.3,"v":70.4,"s":"A","g":"CH4"},{"t":37.0,"v":69.9,"s":"A","g":"CH4"},{"t":41.7,"v":69.9,"s":"A","g":"CH4"},{"t":48.0,"v":69.9,"s":"A","g":"CH4"},{"t":54.3,"v":69.3,"s":"A","g":"CH4"},{"t":60.6,"v":69.9,"s":"A","g":"CH4"},{"t":66.9,"v":69.9,"s":"A","g":"CH4"},{"t":73.2,"v":70.4,"s":"A","g":"CH4"},{"t":79.5,"v":72.0,"s":"A","g":"CH4"},{"t":85.8,"v":72.0,"s":"A","g":"CH4"},{"t":92.1,"v":71.0,"s":"A","g":"CH4"},{"t":98.4,"v":71.0,"s":"A","g":"CH4"},{"t":104.6,"v":70.4,"s":"A","g":"CH4"},{"t":110.9,"v":71.0,"s":"A","g":"CH4"},{"t":117.2,"v":71.2,"s":"A","g":"CH4"},{"t":123.5,"v":71.2,"s":"A","g":"CH4"},{"t":129.8,"v":71.2,"s":"A","g":"CH4"},{"t":136.1,"v":71.5,"s":"A","g":"CH4"},{"t":142.4,"v":71.5,"s":"A","g":"CH4"},{"t":148.7,"v":71.2,"s":"A","g":"CH4"},{"t":155.0,"v":71.5,"s":"A","g":"CH4"},{"t":161.3,"v":71.5,"s":"A","g":"CH4"},{"t":167.5,"v":71.8,"s":"A","g":"CH4"},{"t":173.8,"v":71.2,"s":"A","g":"CH4"},{"t":180.1,"v":71.5,"s":"A","g":"CH4"},{"t":186.4,"v":71.5,"s":"A","g":"CH4"},{"t":188.0,"v":68.3,"s":"A","g":"CH4"},{"t":189.6,"v":70.4,"s":"A","g":"CH4"},{"t":199.0,"v":70.4,"s":"A","g":"CH4"},{"t":214.7,"v":70.4,"s":"A","g":"CH4"},{"t":242,"v":70.4,"s":"A","g":"CH4"},
{"t":4.0,"v":20.6,"s":"A","g":"CO2"},{"t":8.7,"v":21.1,"s":"A","g":"CO2"},{"t":11.9,"v":22.2,"s":"A","g":"CO2"},{"t":15.0,"v":22.8,"s":"A","g":"CO2"},{"t":19.7,"v":23.3,"s":"A","g":"CO2"},{"t":24.4,"v":24.4,"s":"A","g":"CO2"},{"t":29.2,"v":25.5,"s":"A","g":"CO2"},{"t":30.7,"v":21.1,"s":"A","g":"CO2"},{"t":32.3,"v":24.9,"s":"A","g":"CO2"},{"t":37.0,"v":24.9,"s":"A","g":"CO2"},{"t":41.7,"v":24.4,"s":"A","g":"CO2"},{"t":48.0,"v":25.5,"s":"A","g":"CO2"},{"t":54.3,"v":25.5,"s":"A","g":"CO2"},{"t":60.6,"v":25.5,"s":"A","g":"CO2"},{"t":66.9,"v":24.9,"s":"A","g":"CO2"},{"t":73.2,"v":24.9,"s":"A","g":"CO2"},{"t":79.5,"v":23.3,"s":"A","g":"CO2"},{"t":85.8,"v":22.8,"s":"A","g":"CO2"},{"t":92.1,"v":24.4,"s":"A","g":"CO2"},{"t":98.4,"v":24.4,"s":"A","g":"CO2"},{"t":104.6,"v":23.8,"s":"A","g":"CO2"},{"t":110.9,"v":23.8,"s":"A","g":"CO2"},{"t":117.2,"v":23.8,"s":"A","g":"CO2"},{"t":123.5,"v":23.5,"s":"A","g":"CO2"},{"t":129.8,"v":23.3,"s":"A","g":"CO2"},{"t":136.1,"v":22.8,"s":"A","g":"CO2"},{"t":142.4,"v":23.5,"s":"A","g":"CO2"},{"t":148.7,"v":23.3,"s":"A","g":"CO2"},{"t":155.0,"v":23.5,"s":"A","g":"CO2"},{"t":161.3,"v":23.3,"s":"A","g":"CO2"},{"t":167.5,"v":23.3,"s":"A","g":"CO2"},{"t":173.8,"v":22.8,"s":"A","g":"CO2"},{"t":180.1,"v":23.1,"s":"A","g":"CO2"},{"t":186.4,"v":23.1,"s":"A","g":"CO2"},{"t":188.0,"v":25.5,"s":"A","g":"CO2"},{"t":189.6,"v":24.9,"s":"A","g":"CO2"},{"t":242,"v":24.9,"s":"A","g":"CO2"},
{"t":4.0,"v":81.3,"s":"B","g":"CH4"},{"t":7.1,"v":81.8,"s":"B","g":"CH4"},{"t":10.3,"v":81.3,"s":"B","g":"CH4"},{"t":11.9,"v":82.9,"s":"B","g":"CH4"},{"t":13.4,"v":78.5,"s":"B","g":"CH4"},{"t":16.6,"v":76.4,"s":"B","g":"CH4"},{"t":19.7,"v":77.5,"s":"B","g":"CH4"},{"t":21.3,"v":74.2,"s":"B","g":"CH4"},{"t":22.9,"v":72.0,"s":"B","g":"CH4"},{"t":25.4,"v":75.3,"s":"B","g":"CH4"},{"t":27.6,"v":71.0,"s":"B","g":"CH4"},{"t":29.2,"v":74.2,"s":"B","g":"CH4"},{"t":30.7,"v":67.7,"s":"B","g":"CH4"},{"t":32.3,"v":77.5,"s":"B","g":"CH4"},{"t":33.9,"v":64.5,"s":"B","g":"CH4"},{"t":35.5,"v":78.5,"s":"B","g":"CH4"},{"t":37.0,"v":62.3,"s":"B","g":"CH4"},{"t":38.6,"v":76.4,"s":"B","g":"CH4"},{"t":40.2,"v":66.6,"s":"B","g":"CH4"},{"t":41.7,"v":77.5,"s":"B","g":"CH4"},{"t":43.3,"v":61.2,"s":"B","g":"CH4"},{"t":44.9,"v":73.1,"s":"B","g":"CH4"},{"t":46.5,"v":58.0,"s":"B","g":"CH4"},{"t":48.0,"v":74.2,"s":"B","g":"CH4"},{"t":49.6,"v":64.5,"s":"B","g":"CH4"},{"t":51.2,"v":71.0,"s":"B","g":"CH4"},{"t":52.7,"v":65.5,"s":"B","g":"CH4"},{"t":54.3,"v":69.9,"s":"B","g":"CH4"},{"t":57.5,"v":68.8,"s":"B","g":"CH4"},{"t":60.6,"v":68.8,"s":"B","g":"CH4"},{"t":63.8,"v":65.5,"s":"B","g":"CH4"},{"t":65.3,"v":69.9,"s":"B","g":"CH4"},{"t":68.5,"v":68.8,"s":"B","g":"CH4"},{"t":73.2,"v":69.9,"s":"B","g":"CH4"},{"t":76.3,"v":68.8,"s":"B","g":"CH4"},{"t":81.0,"v":74.8,"s":"B","g":"CH4"},{"t":85.8,"v":74.8,"s":"B","g":"CH4"},{"t":92.1,"v":74.2,"s":"B","g":"CH4"},{"t":93.6,"v":68.8,"s":"B","g":"CH4"},{"t":99.9,"v":68.3,"s":"B","g":"CH4"},{"t":104.6,"v":68.8,"s":"B","g":"CH4"},{"t":107.8,"v":72.0,"s":"B","g":"CH4"},{"t":110.9,"v":71.0,"s":"B","g":"CH4"},{"t":112.5,"v":67.7,"s":"B","g":"CH4"},{"t":114.1,"v":72.0,"s":"B","g":"CH4"},{"t":117.2,"v":69.9,"s":"B","g":"CH4"},{"t":120.4,"v":72.0,"s":"B","g":"CH4"},{"t":123.5,"v":71.0,"s":"B","g":"CH4"},{"t":126.7,"v":73.1,"s":"B","g":"CH4"},{"t":129.8,"v":71.0,"s":"B","g":"CH4"},{"t":132.9,"v":72.0,"s":"B","g":"CH4"},{"t":136.1,"v":69.9,"s":"B","g":"CH4"},{"t":139.2,"v":73.1,"s":"B","g":"CH4"},{"t":142.4,"v":71.0,"s":"B","g":"CH4"},{"t":145.5,"v":73.6,"s":"B","g":"CH4"},{"t":148.7,"v":71.5,"s":"B","g":"CH4"},{"t":151.8,"v":69.9,"s":"B","g":"CH4"},{"t":153.4,"v":67.7,"s":"B","g":"CH4"},{"t":155.0,"v":72.6,"s":"B","g":"CH4"},{"t":158.1,"v":71.0,"s":"B","g":"CH4"},{"t":161.3,"v":72.6,"s":"B","g":"CH4"},{"t":164.4,"v":71.0,"s":"B","g":"CH4"},{"t":167.5,"v":73.1,"s":"B","g":"CH4"},{"t":170.7,"v":70.4,"s":"B","g":"CH4"},{"t":173.8,"v":73.1,"s":"B","g":"CH4"},{"t":178.5,"v":72.0,"s":"B","g":"CH4"},{"t":183.3,"v":71.0,"s":"B","g":"CH4"},{"t":186.4,"v":71.0,"s":"B","g":"CH4"},{"t":187.0,"v":55.8,"s":"B","g":"CH4"},{"t":188.0,"v":65.5,"s":"B","g":"CH4"},{"t":191.1,"v":67.7,"s":"B","g":"CH4"},{"t":194.3,"v":67.7,"s":"B","g":"CH4"},{"t":195.8,"v":68.8,"s":"B","g":"CH4"},{"t":199.0,"v":66.6,"s":"B","g":"CH4"},{"t":202.1,"v":67.1,"s":"B","g":"CH4"},{"t":205.3,"v":67.7,"s":"B","g":"CH4"},{"t":208.4,"v":65.5,"s":"B","g":"CH4"},{"t":211.6,"v":66.6,"s":"B","g":"CH4"},{"t":214.7,"v":64.5,"s":"B","g":"CH4"},{"t":217.9,"v":65.5,"s":"B","g":"CH4"},{"t":221.0,"v":68.3,"s":"B","g":"CH4"},{"t":224.2,"v":65.5,"s":"B","g":"CH4"},{"t":227.3,"v":64.5,"s":"B","g":"CH4"},{"t":232.0,"v":63.9,"s":"B","g":"CH4"},{"t":242,"v":63.9,"s":"B","g":"CH4"},
{"t":4.0,"v":22.8,"s":"B","g":"CO2"},{"t":8.7,"v":23.3,"s":"B","g":"CO2"},{"t":11.9,"v":24.9,"s":"B","g":"CO2"},{"t":15.0,"v":24.4,"s":"B","g":"CO2"},{"t":18.2,"v":25.5,"s":"B","g":"CO2"},{"t":22.9,"v":26.0,"s":"B","g":"CO2"},{"t":27.6,"v":26.5,"s":"B","g":"CO2"},{"t":30.7,"v":25.5,"s":"B","g":"CO2"},{"t":33.9,"v":27.6,"s":"B","g":"CO2"},{"t":37.0,"v":26.5,"s":"B","g":"CO2"},{"t":40.2,"v":29.3,"s":"B","g":"CO2"},{"t":43.3,"v":27.1,"s":"B","g":"CO2"},{"t":46.5,"v":28.7,"s":"B","g":"CO2"},{"t":49.6,"v":27.6,"s":"B","g":"CO2"},{"t":54.3,"v":27.6,"s":"B","g":"CO2"},{"t":60.6,"v":27.1,"s":"B","g":"CO2"},{"t":65.3,"v":27.6,"s":"B","g":"CO2"},{"t":71.6,"v":27.1,"s":"B","g":"CO2"},{"t":77.9,"v":26.5,"s":"B","g":"CO2"},{"t":82.6,"v":25.5,"s":"B","g":"CO2"},{"t":92.1,"v":25.5,"s":"B","g":"CO2"},{"t":95.2,"v":27.1,"s":"B","g":"CO2"},{"t":104.6,"v":27.1,"s":"B","g":"CO2"},{"t":110.9,"v":26.5,"s":"B","g":"CO2"},{"t":117.2,"v":26.0,"s":"B","g":"CO2"},{"t":123.5,"v":26.5,"s":"B","g":"CO2"},{"t":129.8,"v":26.0,"s":"B","g":"CO2"},{"t":136.1,"v":26.0,"s":"B","g":"CO2"},{"t":148.7,"v":26.0,"s":"B","g":"CO2"},{"t":161.3,"v":26.5,"s":"B","g":"CO2"},{"t":167.5,"v":26.5,"s":"B","g":"CO2"},{"t":173.8,"v":26.0,"s":"B","g":"CO2"},{"t":186.4,"v":26.0,"s":"B","g":"CO2"},{"t":188.0,"v":30.9,"s":"B","g":"CO2"},{"t":189.6,"v":28.7,"s":"B","g":"CO2"},{"t":199.0,"v":28.2,"s":"B","g":"CO2"},{"t":211.6,"v":28.2,"s":"B","g":"CO2"},{"t":217.9,"v":27.6,"s":"B","g":"CO2"},{"t":224.2,"v":28.2,"s":"B","g":"CO2"},{"t":230.4,"v":28.5,"s":"B","g":"CO2"},{"t":242,"v":28.5,"s":"B","g":"CO2"}]
},
"concat":[
{"width":252,"height":306,"data":{"name":"olr"},
"resolve":{"scale":{"y":"independent"},"axis":{"y":"independent"}},
"layer":[
{"mark":{"type":"line","color":"black","strokeWidth":4},
"encoding":{"x":{"field":"t","type":"quantitative","scale":{"domain":[4,242],"nice":false,"zero":false},"axis":{"values":[100,200],"labels":false,"title":null}},
"y":{"field":"v","type":"quantitative","scale":{"domain":[0,20],"nice":false},"axis":{"values":[0,5,10,15,20],"title":"OLR"}}}},
{"mark":{"type":"line","opacity":0},
"encoding":{"x":{"field":"t","type":"quantitative","scale":{"domain":[4,242],"nice":false,"zero":false},"axis":{"values":[100,200],"labels":false,"title":null}},
"y":{"field":"v","type":"quantitative","scale":{"domain":[0,20],"nice":false},"axis":{"orient":"right","values":[0,5,10,15,20],"labels":false,"title":null}}}}]},
{"width":252,"height":306,"data":{"name":"cod"},
"resolve":{"scale":{"y":"independent"},"axis":{"y":"independent"}},
"layer":[
{"encoding":{"x":{"field":"t","type":"quantitative","scale":{"domain":[4,242],"nice":false,"zero":false},"axis":{"values":[100,200],"labels":false,"title":null}},
"y":{"field":"v","type":"quantitative","scale":{"domain":[0,4],"nice":false},"axis":{"values":[0,1,2,3,4],"title":"CODs (kg COD/m3)"}}},
"layer":[
{"transform":[{"filter":"datum.s === 'E'"}],"mark":{"type":"point","shape":"circle","size":225,"color":"black","strokeWidth":1,"filled":false,"opacity":1}},
{"transform":[{"filter":"datum.s === 'A'"}],"mark":{"type":"line","color":"#ff0000"}},
{"transform":[{"filter":"datum.s === 'B'"}],"mark":{"type":"line","color":"#0000ff"}}]},
{"transform":[{"filter":"datum.s === 'A'"}],"mark":{"type":"line","opacity":0},
"encoding":{"x":{"field":"t","type":"quantitative","scale":{"domain":[4,242],"nice":false,"zero":false},"axis":{"values":[100,200],"labels":false,"title":null}},
"y":{"field":"v","type":"quantitative","scale":{"domain":[0,4],"nice":false},"axis":{"orient":"right","values":[0,1,2,3,4],"labels":false,"title":null}}}}]},
{"width":252,"height":306,"data":{"name":"gas"},
"resolve":{"scale":{"y":"independent"},"axis":{"y":"independent"}},
"layer":[
{"layer":[
{"transform":[{"filter":"datum.s === 'E'"}],"mark":{"type":"point","shape":"circle","size":225,"color":"black","strokeWidth":1,"filled":false,"opacity":1},
"encoding":{"x":{"field":"t","type":"quantitative","scale":{"domain":[4,242],"nice":false,"zero":false},"axis":{"values":[100,200],"labels":false,"title":null}},"y":{"field":"v","type":"quantitative","scale":{"domain":[0,100],"nice":false},"axis":{"values":[0,20,40,60,80,100],"title":null}}}},
{"transform":[{"filter":"datum.s === 'A'"}],"mark":{"type":"line","color":"#ff0000"},
"encoding":{"x":{"field":"t","type":"quantitative","scale":{"domain":[4,242],"nice":false,"zero":false},"axis":{"values":[100,200],"labels":false,"title":null}},"y":{"field":"v","type":"quantitative","scale":{"domain":[0,100],"nice":false},"axis":{"values":[0,20,40,60,80,100],"title":null}}}},
{"transform":[{"filter":"datum.s === 'B'"}],"mark":{"type":"line","color":"#0000ff"},
"encoding":{"x":{"field":"t","type":"quantitative","scale":{"domain":[4,242],"nice":false,"zero":false},"axis":{"values":[100,200],"labels":false,"title":null}},"y":{"field":"v","type":"quantitative","scale":{"domain":[0,100],"nice":false},"axis":{"values":[0,20,40,60,80,100],"title":null}}}},
{"data":{"values":[{}]},"mark":{"type":"text","text":"q","angle":270,"align":"left","baseline":"alphabetic","fontSize":24,"fontWeight":"bold","font":"Liberation Sans","color":"black"},"encoding":{"x":{"datum":296,"type":"quantitative"},"y":{"datum":25.9,"type":"quantitative"}}},
{"data":{"values":[{}]},"mark":{"type":"text","text":"gas","angle":270,"align":"left","baseline":"alphabetic","fontSize":16,"fontWeight":"bold","font":"Liberation Sans","color":"black"},"encoding":{"x":{"datum":299.6,"type":"quantitative"},"y":{"datum":32.0,"type":"quantitative"}}},
{"data":{"values":[{}]},"mark":{"type":"text","text":"(m3/day)","angle":270,"align":"left","baseline":"alphabetic","fontSize":24,"fontWeight":"bold","font":"Liberation Sans","color":"black"},"encoding":{"x":{"datum":296,"type":"quantitative"},"y":{"datum":43.3,"type":"quantitative"}}}]},
{"transform":[{"filter":"datum.s === 'A'"}],"mark":{"type":"line","opacity":0},
"encoding":{"x":{"field":"t","type":"quantitative","scale":{"domain":[4,242],"nice":false,"zero":false},"axis":{"values":[100,200],"labels":false,"title":null}},
"y":{"field":"v","type":"quantitative","scale":{"domain":[0,100],"nice":false},"axis":{"orient":"right","values":[0,20,40,60,80,100],"labels":false,"title":null}}}}]},
{"width":252,"height":306,"data":{"name":"ph"},
"resolve":{"scale":{"y":"independent"},"axis":{"y":"independent"}},
"layer":[
{"encoding":{"x":{"field":"t","type":"quantitative","scale":{"domain":[4,242],"nice":false,"zero":false},"axis":{"values":[100,200],"title":null}},
"y":{"field":"v","type":"quantitative","scale":{"domain":[6.5,7.5],"nice":false,"zero":false},"axis":{"values":[6.5,7,7.5],"format":"~g","title":"pH"}}},
"layer":[
{"transform":[{"filter":"datum.s === 'E'"}],"mark":{"type":"point","shape":"circle","size":225,"color":"black","strokeWidth":1,"filled":false,"opacity":1}},
{"transform":[{"filter":"datum.s === 'A'"}],"mark":{"type":"line","color":"#ff0000"}},
{"transform":[{"filter":"datum.s === 'B'"}],"mark":{"type":"line","color":"#0000ff"}}]},
{"transform":[{"filter":"datum.s === 'A'"}],"mark":{"type":"line","opacity":0},
"encoding":{"x":{"field":"t","type":"quantitative","scale":{"domain":[4,242],"nice":false,"zero":false},"axis":{"values":[100,200],"title":null}},
"y":{"field":"v","type":"quantitative","scale":{"domain":[6.5,7.5],"nice":false,"zero":false},"axis":{"orient":"right","values":[6.5,7,7.5],"labels":false,"title":null}}}}]},
{"width":252,"height":306,"data":{"name":"vfa"},
"resolve":{"scale":{"y":"independent"},"axis":{"y":"independent"}},
"layer":[
{"encoding":{"x":{"field":"t","type":"quantitative","scale":{"domain":[4,242],"nice":false,"zero":false},"axis":{"values":[100,200],"title":"Time (days)","titleFontSize":27}},
"y":{"field":"v","type":"quantitative","scale":{"domain":[0,4],"nice":false},"axis":{"values":[0,1,2,3,4],"title":"VFAs (kg COD/m3)"}}},
"layer":[
{"transform":[{"filter":"datum.s === 'E'"}],"mark":{"type":"point","size":225,"strokeWidth":1,"filled":false,"opacity":1},
"encoding":{
"color":{"field":"s","type":"nominal","scale":{"domain":["E","A","B"],"range":["#000000","#ff0000","#0000ff"]},
"legend":{"title":null,"orient":"none","legendX":352,"legendY":441,"strokeColor":"black","fillColor":"white","padding":9,"labelFont":"Liberation Sans","labelFontSize":22,"labelColor":"black","symbolSize":225,"symbolStrokeWidth":1,"symbolOffset":17,"labelOffset":25,"rowPadding":7,"labelExpr":"datum.label === 'E' ? 'Exp' : datum.label === 'A' ? 'ADM1' : 'ADM1 10'"}},
"shape":{"field":"s","type":"nominal","scale":{"domain":["E","A","B"],"range":["circle","M-3,-0.27H3M-3,-0.135H3M-3,0H3M-3,0.135H3M-3,0.27H3","M-3,-0.27H3M-3,-0.135H3M-3,0H3M-3,0.135H3M-3,0.27H3"]},
"legend":{"title":null,"orient":"none","legendX":352,"legendY":441,"strokeColor":"black","fillColor":"white","padding":9,"labelFont":"Liberation Sans","labelFontSize":22,"labelColor":"black","symbolSize":225,"symbolStrokeWidth":1,"symbolOffset":17,"labelOffset":25,"rowPadding":7,"labelExpr":"datum.label === 'E' ? 'Exp' : datum.label === 'A' ? 'ADM1' : 'ADM1 10'"}}}},
{"transform":[{"filter":"datum.s === 'A'"}],"mark":{"type":"line","color":"#ff0000"}},
{"transform":[{"filter":"datum.s === 'B'"}],"mark":{"type":"line","color":"#0000ff"}}]},
{"transform":[{"filter":"datum.s === 'A'"}],"mark":{"type":"line","opacity":0},
"encoding":{"x":{"field":"t","type":"quantitative","scale":{"domain":[4,242],"nice":false,"zero":false},"axis":{"values":[100,200],"title":"Time (days)","titleFontSize":27}},
"y":{"field":"v","type":"quantitative","scale":{"domain":[0,4],"nice":false},"axis":{"orient":"right","values":[0,1,2,3,4],"labels":false,"title":null}}}}]},
{"width":252,"height":306,"data":{"name":"comp"},
"resolve":{"scale":{"y":"independent"},"axis":{"y":"independent"}},
"layer":[
{"layer":[
{"transform":[{"filter":"datum.s === 'E'"}],"mark":{"type":"point","shape":"circle","size":225,"color":"black","strokeWidth":1,"filled":false,"opacity":1},
"encoding":{"x":{"field":"t","type":"quantitative","scale":{"domain":[4,242],"nice":false,"zero":false},"axis":{"values":[100,200],"title":null}},"y":{"field":"v","type":"quantitative","scale":{"domain":[0,100],"nice":false},"axis":{"values":[0,20,40,60,80,100],"title":null}}}},
{"transform":[{"filter":"datum.s === 'A'"}],"mark":{"type":"line","color":"#ff0000"},
"encoding":{"x":{"field":"t","type":"quantitative","scale":{"domain":[4,242],"nice":false,"zero":false},"axis":{"values":[100,200],"title":null}},"y":{"field":"v","type":"quantitative","scale":{"domain":[0,100],"nice":false},"axis":{"values":[0,20,40,60,80,100],"title":null}},"detail":{"field":"g"}}},
{"transform":[{"filter":"datum.s === 'B'"}],"mark":{"type":"line","color":"#0000ff"},
"encoding":{"x":{"field":"t","type":"quantitative","scale":{"domain":[4,242],"nice":false,"zero":false},"axis":{"values":[100,200],"title":null}},"y":{"field":"v","type":"quantitative","scale":{"domain":[0,100],"nice":false},"axis":{"values":[0,20,40,60,80,100],"title":null}},"detail":{"field":"g"}}},
{"data":{"values":[{}]},"mark":{"type":"text","text":"%CH4","angle":270,"align":"center","baseline":"alphabetic","fontSize":24,"fontWeight":"bold","font":"Liberation Sans","color":"black"},"encoding":{"x":{"datum":301.2,"type":"quantitative"},"y":{"datum":76.5,"type":"quantitative"}}},
{"data":{"values":[{}]},"mark":{"type":"text","text":"%CO2","angle":270,"align":"center","baseline":"alphabetic","fontSize":24,"fontWeight":"bold","font":"Liberation Sans","color":"black"},"encoding":{"x":{"datum":301.2,"type":"quantitative"},"y":{"datum":31.0,"type":"quantitative"}}}]},
{"transform":[{"filter":"datum.s === 'A'"}],"mark":{"type":"line","opacity":0},
"encoding":{"x":{"field":"t","type":"quantitative","scale":{"domain":[4,242],"nice":false,"zero":false},"axis":{"values":[100,200],"title":null}},
"y":{"field":"v","type":"quantitative","scale":{"domain":[0,100],"nice":false},"axis":{"orient":"right","values":[0,20,40,60,80,100],"labels":false,"title":null}}}}]}
]
}
